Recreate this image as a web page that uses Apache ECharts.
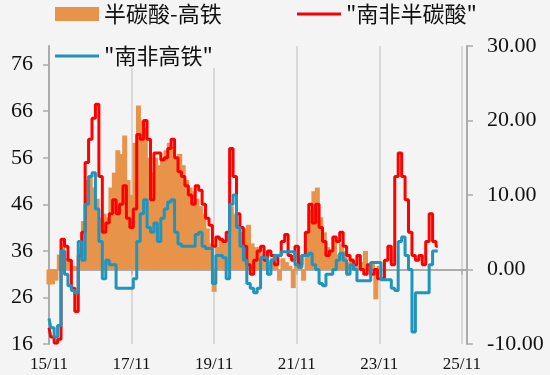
<!DOCTYPE html>
<html><head><meta charset="utf-8">
<script src="https://cdn.jsdelivr.net/npm/echarts@6/dist/echarts.min.js"></script>
<style>html,body{margin:0;padding:0;background:#f4f4f4}#c{width:550px;height:375px}</style>
</head><body><div id="c"></div>
<script>
// month offsets from 2015-11 (index = months since Nov 2015)
const startYear = 2015, startMon = 11;
const nameSpread = '半碳酸-高铁';
const nameRed = '"南非半碳酸"';
const nameBlue = '"南非高铁"';

// "南非半碳酸" (left axis), monthly
const red = [19.5,17.5,16.2,17,38.5,37,34,28,23,35,40,55,60,64.5,67.5,52,40,42,44,47,44,46,50,43,41,45,61,60,64,60,47,57,57,55.5,56,58,60,56,53,52,50,48,46,50,49,46,43,41.5,37,39,38.5,38,40,58,52,44,41,37,33,31,34,36,37,34,36,35,33,35,38,39.5,35,34,37,33,35,40,46,42,46,41,38,35,36,39,38,40,37,35,34,33,35,32,31,33,31,32,30,30,34,37,33,52,57,52,47,40,35,34,35,33,38,44,38,37];
// "南非高铁" (left axis), monthly
const blue = [21.5,19.5,17.5,20,36,31,28.5,27.5,27,38,34,46,52,52.8,45,38,30,34,33,33,28,28,28,28,28,30,38,44,47,41,40,42,38,43,45,46.5,47,40,37.5,37,37,37,37,39.5,40,37,36.5,36.5,29,35,35,34.5,30,46,48,41,37,34,29,28,27,28,34.5,34.5,31,34,35,35,35.8,35.8,35.8,35.8,33,32.5,35,35,35.5,33,32,29,28.5,31,31,32,34,35.5,34,31,33,32,29.6,29.6,29.6,29.6,33.5,33.5,33.5,29.8,29.8,29.8,28,27.5,38,39,35,32,18.6,27,27,27,27,33,36,36];
// 半碳酸-高铁 (right axis), monthly
const spread = [-2,-2,-1.5,2,3.5,1.5,1.3,0.5,0.4,3,6.5,12,12.5,11,9.5,7,7.5,7,11,13,16,15.5,18,12,10,17,22,20,19,15,13,15,14,15,16,17,16.5,15,15.5,14,12,11,10.5,9.5,8.5,7.5,5.5,3.5,-3,3,4,3.5,5,8.5,7.5,6,5,5.5,6,3.5,3,3,2,1.5,1,1.5,0.5,-1.5,1.5,1,0.5,-2.5,1,1.5,-1.5,5,8,10.5,11,7,5,3,2.5,4,2,3.5,2.5,1,1.5,0.8,0.5,1,2.5,0.5,1,-4,0.5];

function monthLabel(v) {
  const t = startYear * 12 + (startMon - 1) + Math.round(v);
  const y = Math.floor(t / 12), m = t % 12 + 1;
  return String(y % 100).padStart(2, '0') + '/' + String(m).padStart(2, '0');
}
const pts = arr => arr.map((v, i) => [i, v]);

const chart = echarts.init(document.getElementById('c'), null, {renderer: 'canvas'});
const serif = 'Liberation Serif';
const cjk = 'Noto Sans CJK SC';
const legText = {fontFamily: cjk, fontSize: 22, color: '#111'};
chart.setOption({
  backgroundColor: '#f4f4f4',
  animation: false,
  grid: {left: 49, right: 83, top: 46, bottom: 31},
  legend: [{
    data: [nameSpread], left: 50, top: 0, padding: [3, 5],
    icon: 'rect', itemWidth: 44, itemHeight: 14, textStyle: legText
  }, {
    data: [nameRed], left: 292, top: 0, padding: [3, 5],
    icon: 'rect', itemWidth: 44, itemHeight: 3, textStyle: legText
  }, {
    data: [nameBlue], left: 50, top: 44, padding: [1, 5],
    icon: 'rect', itemWidth: 44, itemHeight: 3,
    backgroundColor: '#f4f4f4', textStyle: legText
  }],
  xAxis: {
    type: 'value', min: 0, max: 121.5, interval: 24,
    axisLine: {lineStyle: {color: '#ababab', width: 2}},
    axisTick: {show: true, length: 5, lineStyle: {color: '#ababab', width: 1.5}},
    axisLabel: {showMaxLabel: false, margin: 12, fontFamily: serif, fontSize: 17, color: '#111', formatter: monthLabel},
    splitLine: {show: true, lineStyle: {color: '#cfcfcf', width: 1.5}}
  },
  yAxis: [{
    type: 'value', min: 16, max: 80, interval: 10, position: 'left',
    axisLine: {show: true, lineStyle: {color: '#ababab', width: 2}},
    axisTick: {show: true, inside: false, length: 6, lineStyle: {color: '#ababab', width: 1.5}},
    axisLabel: {showMaxLabel: false, margin: 16, fontFamily: serif, fontSize: 22, color: '#111'},
    splitLine: {show: false}
  }, {
    type: 'value', min: -10, max: 30, interval: 10, position: 'right',
    axisLine: {show: true, lineStyle: {color: '#ababab', width: 2}},
    axisTick: {show: true, inside: false, length: 6, lineStyle: {color: '#ababab', width: 1.5}},
    axisLabel: {margin: 20, fontFamily: serif, fontSize: 22, color: '#111', formatter: v => v.toFixed(2)},
    splitLine: {show: false}
  }],
  series: [{
    name: nameSpread, type: 'bar', yAxisIndex: 1, data: pts(spread),
    barWidth: 5, barMaxWidth: 10, itemStyle: {color: '#E8934A', borderWidth: 0}, z: 1
  }, {
    name: nameRed, type: 'line', yAxisIndex: 0, data: pts(red), step: 'middle',
    symbol: 'none', lineStyle: {color: '#FF0000', width: 3}, itemStyle: {color: '#FF0000'}, z: 2
  }, {
    name: nameBlue, type: 'line', yAxisIndex: 0, data: pts(blue), step: 'middle',
    symbol: 'none', lineStyle: {color: '#1F95BD', width: 3}, itemStyle: {color: '#1F95BD'}, z: 3
  }]
});
</script></body></html>
